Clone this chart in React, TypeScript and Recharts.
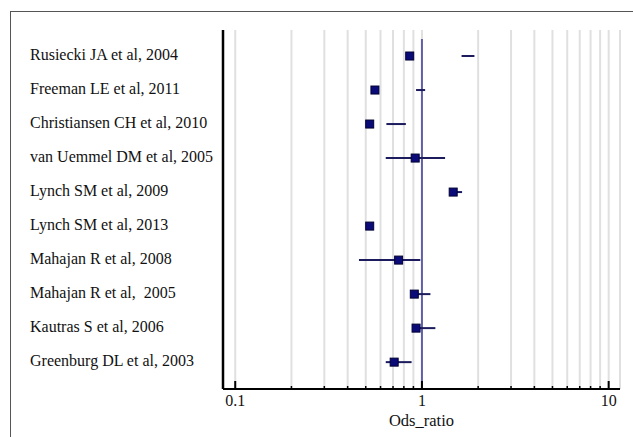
import React from "react";
import {
  ScatterChart,
  Scatter,
  XAxis,
  YAxis,
  CartesianGrid,
  ReferenceLine,
  ErrorBar,
} from "recharts";

// studies, top to bottom
const studies = [
  "Rusiecki JA et al, 2004",
  "Freeman LE et al, 2011",
  "Christiansen CH et al, 2010",
  "van Uemmel DM et al, 2005",
  "Lynch SM et al, 2009",
  "Lynch SM et al, 2013",
  "Mahajan R et al, 2008",
  "Mahajan R et al,  2005",
  "Kautras S et al, 2006",
  "Greenburg DL et al, 2003",
];

// odds ratio (square) and the drawn interval
const oddsRatio = [0.86, 0.56, 0.525, 0.92, 1.47, 0.525, 0.75, 0.91, 0.93, 0.71];
const ciLow = [1.63, 0.93, 0.645, 0.64, 1.44, 0.52, 0.46, 0.91, 0.93, 0.64];
const ciHigh = [1.91, 1.04, 0.82, 1.33, 1.64, 0.53, 0.98, 1.11, 1.18, 0.88];

const xTicks = [
  0.1, 0.2, 0.3, 0.4, 0.5, 0.6, 0.7, 0.8, 0.9, 1, 2, 3, 4, 5, 6, 7, 8, 9, 10,
];
const majorTicks = [0.1, 1, 10];
const rows = [1, 2, 3, 4, 5, 6, 7, 8, 9, 10];

const FONT = "'Liberation Serif', 'Times New Roman', serif";

const data = studies.map((name, i) => ({
  name,
  row: rows[i],
  or: oddsRatio[i],
  // ErrorBar wants [below, above] offsets from the value
  ci: [oddsRatio[i] - ciLow[i], ciHigh[i] - oddsRatio[i]],
}));

const XTick = (props: any) => {
  const { x, y, payload } = props;
  const major = majorTicks.includes(payload.value);
  return (
    <g>
      <line
        x1={x}
        x2={x}
        y1={y}
        y2={y - (major ? 8 : 3)}
        stroke="#000"
        strokeWidth={major ? 2 : 1.5}
      />
      {major && (
        <text
          x={x}
          y={y + 17}
          textAnchor="middle"
          fontSize={16}
          fontFamily={FONT}
          fill="#111"
        >
          {payload.value}
        </text>
      )}
    </g>
  );
};

const YTick = (props: any) => {
  const { y, payload } = props;
  return (
    <text
      x={30}
      y={y + 4}
      fontSize={16}
      fontFamily={FONT}
      fill="#111"
      style={{ whiteSpace: "pre" }}
    >
      {studies[payload.value - 1]}
    </text>
  );
};

const Square = (props: any) => {
  const { cx, cy } = props;
  return (
    <rect
      x={cx - 4}
      y={cy - 4}
      width={8}
      height={8}
      fill="#0a0a78"
      stroke="#000033"
      strokeWidth={1}
    />
  );
};

export default function App() {
  return (
    <div
      style={{
        position: "absolute",
        left: 0,
        top: 0,
        width: 633,
        height: 437,
        background: "#fff",
      }}
    >
      {/* frame around the figure */}
      <div
        style={{
          position: "absolute",
          left: 10,
          top: 11,
          width: 623,
          height: 426,
          borderTop: "1.5px solid #555",
          borderLeft: "1.5px solid #555",
        }}
      />
      <ScatterChart
        width={633}
        height={437}
        margin={{ top: 30, right: 13, bottom: 8, left: 0 }}
        style={{ position: "absolute", left: 0, top: 0 }}
      >
        <CartesianGrid horizontal={false} stroke="#e0e0e0" strokeWidth={2} />
        <XAxis
          type="number"
          dataKey="or"
          scale="log"
          domain={[0.086, 11.5]}
          allowDataOverflow
          ticks={xTicks}
          interval={0}
          tick={<XTick />}
          tickLine={false}
          tickSize={0}
          tickMargin={0}
          height={40}
          axisLine={{ stroke: "#000", strokeWidth: 2 }}
          label={{
            value: "Ods_ratio",
            position: "insideBottom",
            offset: 3,
            fontSize: 16.5,
            fontFamily: FONT,
            fill: "#111",
          }}
        />
        <YAxis
          type="number"
          dataKey="row"
          domain={[0.235, 10.79]}
          reversed
          ticks={rows}
          interval={0}
          tick={<YTick />}
          tickLine={false}
          width={223}
          axisLine={{ stroke: "#000", strokeWidth: 2.5 }}
        />
        <ReferenceLine
          segment={[
            { x: 1, y: 0.5 },
            { x: 1, y: 10.79 },
          ]}
          stroke="#6060a8"
          strokeWidth={2}
        />
        <Scatter data={data} shape={<Square />} isAnimationActive={false}>
          <ErrorBar
            dataKey="ci"
            direction="x"
            width={0}
            stroke="#1b1b5e"
            strokeWidth={2}
          />
        </Scatter>
      </ScatterChart>
    </div>
  );
}
